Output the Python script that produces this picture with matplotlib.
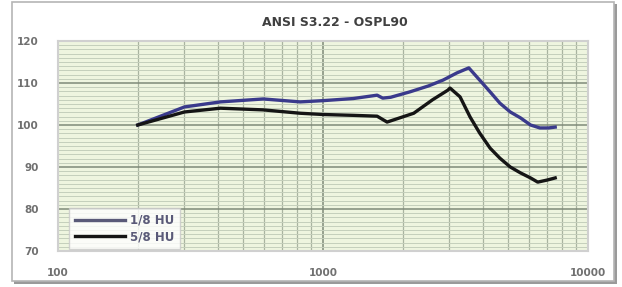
import matplotlib
matplotlib.use('Agg')
import matplotlib.pyplot as plt
from matplotlib.patches import Rectangle
from matplotlib.ticker import FixedLocator, NullFormatter, MultipleLocator

# frequency (Hz) and OSPL90 (dB SPL)
freq_a = [200, 300, 410, 595, 820, 1000, 1300, 1600, 1680, 1800, 2130, 2500, 2840, 3200, 3550, 3900, 4270, 4650, 5090, 5560, 6070, 6580, 7100, 7520]
spl_a = [100.0, 104.3, 105.5, 106.2, 105.5, 105.8, 106.3, 107.1, 106.4, 106.6, 107.9, 109.3, 110.7, 112.4, 113.6, 110.7, 107.9, 105.2, 103.1, 101.7, 100.0, 99.3, 99.3, 99.5]

freq_b = [200, 300, 410, 595, 820, 1000, 1300, 1600, 1745, 2200, 2590, 2960, 3015, 3290, 3590, 3900, 4270, 4650, 5090, 5560, 6070, 6460, 7020, 7520]
spl_b = [100.0, 103.1, 104.0, 103.6, 102.8, 102.5, 102.3, 102.1, 100.7, 102.8, 106.0, 108.3, 108.8, 106.7, 101.9, 98.1, 94.5, 92.1, 90.0, 88.6, 87.4, 86.4, 86.9, 87.4]

label_a = '1/8 HU'
label_b = '5/8 HU'
x_ticks = [100, 1000, 10000]
y_ticks = [70, 80, 90, 100, 110, 120]

fig = plt.figure(figsize=(6.22, 2.87), dpi=100)
fig.patch.set_facecolor('white')

# outer frame with a grey shadow on the right and bottom
fig.patches.append(Rectangle((14 / 622, 3 / 287), 603 / 622, 280 / 287, transform=fig.transFigure,
                             facecolor='#9a9a9a', edgecolor='none', zorder=-3))
fig.patches.append(Rectangle((12 / 622, 6 / 287), 602 / 622, 279 / 287, transform=fig.transFigure,
                             facecolor='white', edgecolor='#b5b5b5', linewidth=1.2, zorder=-2))

ax = fig.add_axes([58 / 622, 36 / 287, 530 / 622, 210 / 287])
ax.set_zorder(1)
ax.set_facecolor('#eef5df')

ax.semilogx(freq_a, spl_a, color='#3a3a8c', linewidth=2.4, label=label_a, zorder=3)
ax.semilogx(freq_b, spl_b, color='#151515', linewidth=2.4, label=label_b, zorder=3)

ax.set_xlim(100, 10000)
ax.set_ylim(70, 120)
ax.xaxis.set_major_locator(FixedLocator(x_ticks))
ax.set_xticklabels([str(v) for v in x_ticks])
ax.xaxis.set_minor_locator(FixedLocator([m * d for d in (100, 1000) for m in range(2, 10)]))
ax.xaxis.set_minor_formatter(NullFormatter())
ax.yaxis.set_major_locator(FixedLocator(y_ticks))
ax.yaxis.set_minor_locator(MultipleLocator(1))

ax.grid(which='major', color='#7f8a78', linestyle='-', linewidth=1.1)
ax.grid(which='minor', axis='y', color='#c4cfbb', linestyle='-', linewidth=0.7)
ax.grid(which='minor', axis='x', color='#a9b4a0', linestyle='-', linewidth=0.9)
ax.set_axisbelow(True)

ax.tick_params(which='both', length=0)
ax.tick_params(axis='x', pad=12, labelsize=7.5, labelcolor='#707070')
ax.tick_params(axis='y', pad=14, labelsize=7.5, labelcolor='#707070')
for lab in ax.get_xticklabels() + ax.get_yticklabels():
    lab.set_fontweight('bold')
for s in ax.spines.values():
    s.set_color('#d0d0d0')
    s.set_linewidth(1.5)

fig.text(335 / 622, 1 - 22 / 287, 'ANSI S3.22 - OSPL90', ha='center', va='center',
         fontsize=9, fontweight='bold', color='#404040')

leg = ax.legend(loc='lower left', bbox_to_anchor=(0.017, 0.0), fontsize=8.5, frameon=True,
                fancybox=False, handlelength=4.3, borderpad=0.45, labelspacing=0.3, handletextpad=0.4,
                borderaxespad=0.2)
leg.get_frame().set_facecolor('white')
leg.get_frame().set_edgecolor('#c8c8c8')
leg.get_lines()[0].set_color('#5a5a78')
for t in leg.get_texts():
    t.set_fontweight('bold')
    t.set_color('#5a5a78')

fig.savefig('out.png', dpi=100)
